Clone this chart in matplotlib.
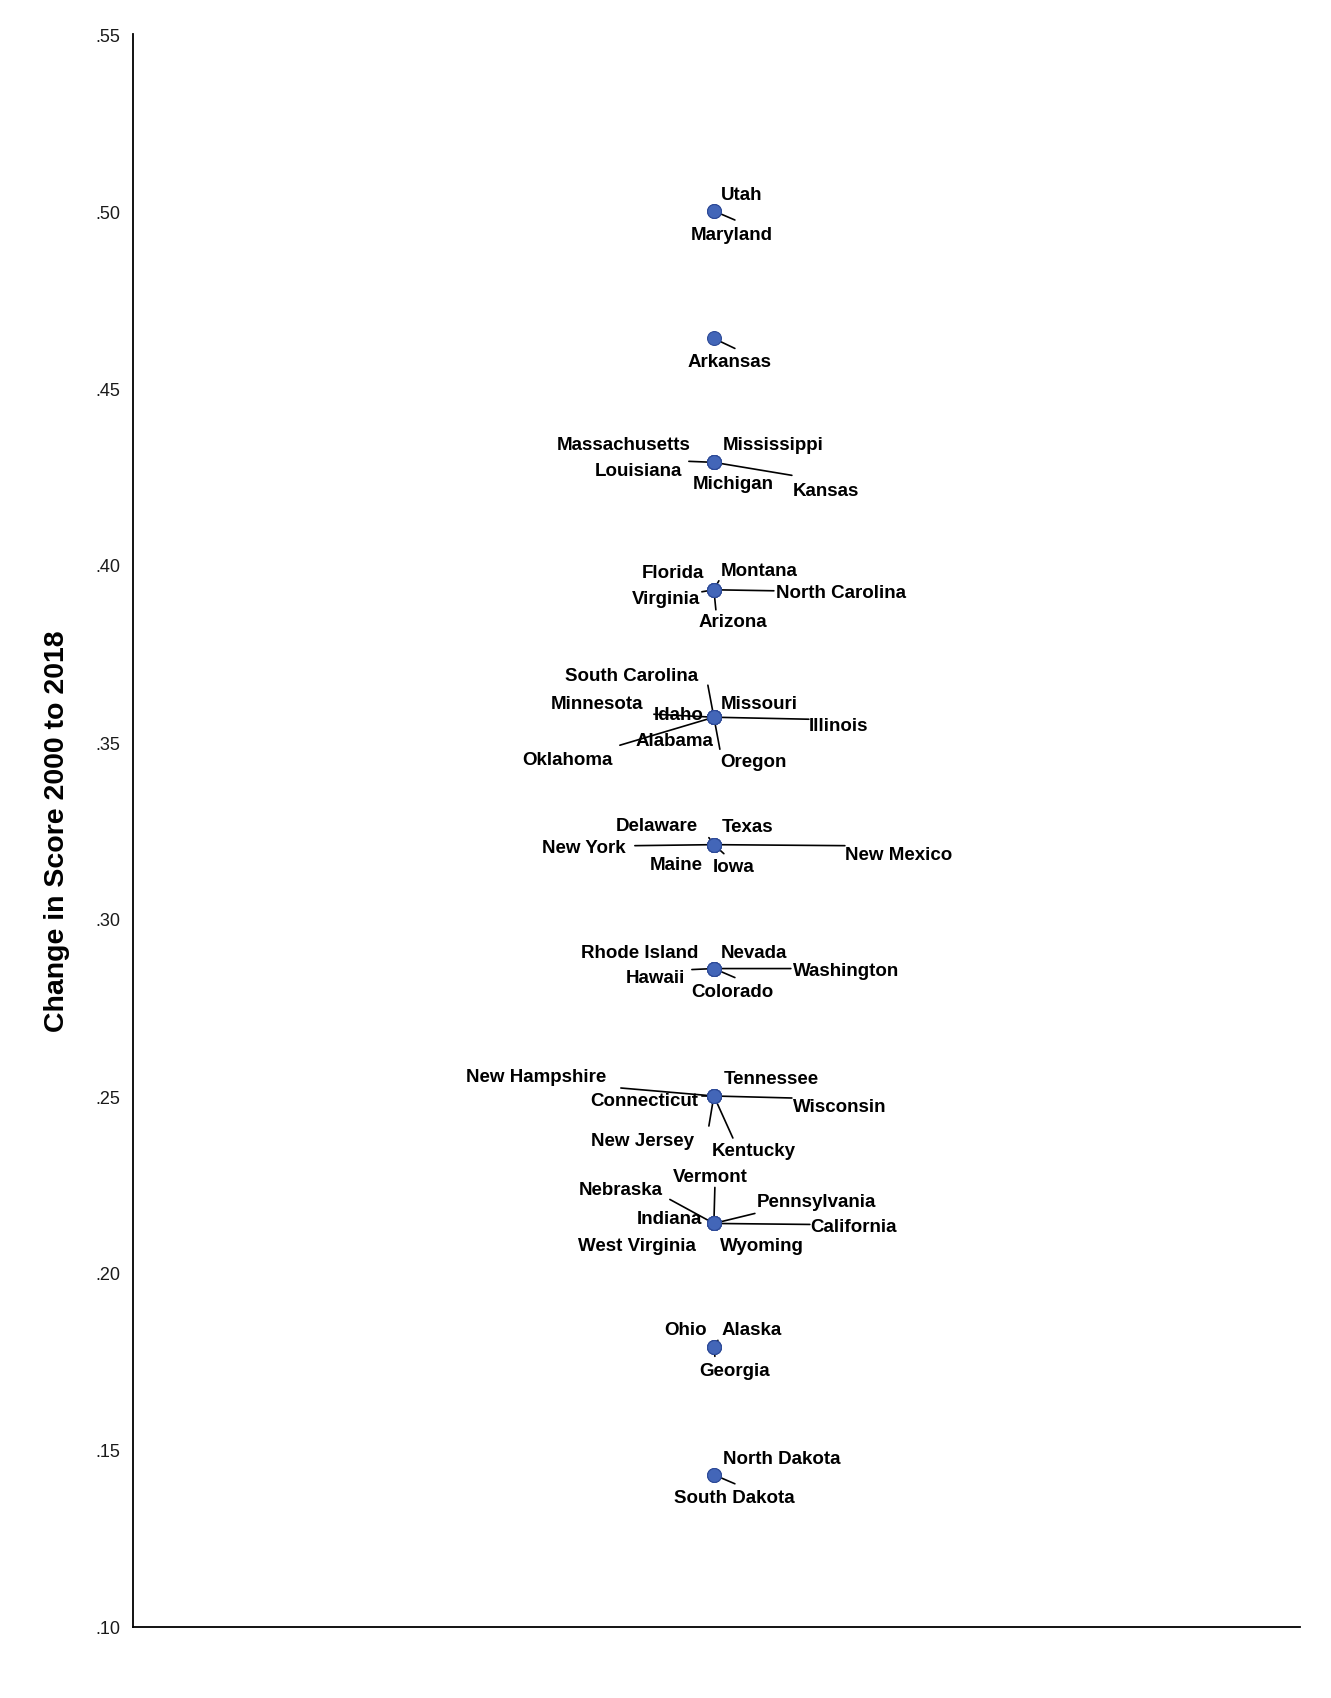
import matplotlib
matplotlib.use("Agg")
import matplotlib.pyplot as plt
from matplotlib.ticker import FuncFormatter

# ---------------- data ----------------
states = ["Utah", "Maryland",
          "Arkansas",
          "Massachusetts", "Mississippi", "Louisiana", "Michigan", "Kansas",
          "Florida", "Montana", "Virginia", "North Carolina", "Arizona",
          "South Carolina", "Minnesota", "Missouri", "Idaho", "Illinois", "Alabama", "Oklahoma", "Oregon",
          "Delaware", "Texas", "New York", "New Mexico", "Maine", "Iowa",
          "Rhode Island", "Nevada", "Hawaii", "Washington", "Colorado",
          "New Hampshire", "Tennessee", "Connecticut", "Wisconsin", "New Jersey", "Kentucky",
          "Vermont", "Nebraska", "Pennsylvania", "Indiana", "California", "West Virginia", "Wyoming",
          "Ohio", "Alaska", "Georgia",
          "North Dakota", "South Dakota"]
change = [0.500, 0.500,
          0.464,
          0.429, 0.429, 0.429, 0.429, 0.429,
          0.393, 0.393, 0.393, 0.393, 0.393,
          0.357, 0.357, 0.357, 0.357, 0.357, 0.357, 0.357, 0.357,
          0.321, 0.321, 0.321, 0.321, 0.321, 0.321,
          0.286, 0.286, 0.286, 0.286, 0.286,
          0.250, 0.250, 0.250, 0.250, 0.250, 0.250,
          0.214, 0.214, 0.214, 0.214, 0.214, 0.214, 0.214,
          0.179, 0.179, 0.179,
          0.143, 0.143]
y_ticks = [0.10, 0.15, 0.20, 0.25, 0.30, 0.35, 0.40, 0.45, 0.50, 0.55]
y_title = "Change in Score 2000 to 2018"

# ---------------- label layout (pixel offsets from the point; y down) ----------------
# name: (text centre dx, dy, leader-line end or None)
layout = {
    "Utah": (28, -18, None),
    "Maryland": (18, 22, (21, 9)),
    "Arkansas": (16, 22, (21, 10)),
    "Massachusetts": (-90, -19, None),
    "Mississippi": (59, -19, None),
    "Louisiana": (-75, 7, (-25, -1)),
    "Michigan": (19, 20, None),
    "Kansas": (112, 27, (78, 13)),
    "Florida": (-41, -18, None),
    "Montana": (45, -20, (5, -9)),
    "Virginia": (-48, 8, (-12, 2)),
    "North Carolina": (127, 2, (60, 1)),
    "Arizona": (19, 31, (2, 20)),
    "South Carolina": (-82, -43, (-6, -32)),
    "Minnesota": (-117, -15, (-60, -3)),
    "Missouri": (45, -15, None),
    "Idaho": (-35, -4, None),
    "Illinois": (125, 7, (95, 2)),
    "Alabama": (-39, 22, None),
    "Oklahoma": (-146, 41, (-94, 28)),
    "Oregon": (40, 43, (6, 32)),
    "Delaware": (-57, -20, (-5, -7)),
    "Texas": (34, -19, None),
    "New York": (-130, 2, (-79, 1)),
    "New Mexico": (185, 9, (131, 1)),
    "Maine": (-38, 19, None),
    "Iowa": (20, 21, (10, 9)),
    "Rhode Island": (-74, -17, None),
    "Nevada": (40, -17, None),
    "Hawaii": (-58, 8, (-22, 1)),
    "Washington": (132, 1, (77, 0)),
    "Colorado": (19, 22, (21, 9)),
    "New Hampshire": (-178, -20, (-93, -8)),
    "Tennessee": (57, -18, None),
    "Connecticut": (-70, 4, (-12, 0)),
    "Wisconsin": (126, 9, (78, 2)),
    "New Jersey": (-71, 43, (-5, 30)),
    "Kentucky": (40, 54, (19, 42)),
    "Vermont": (-4, -48, (1, -36)),
    "Nebraska": (-93, -35, (-44, -24)),
    "Pennsylvania": (103, -23, (41, -10)),
    "Indiana": (-44, -6, None),
    "California": (140, 2, (96, 1)),
    "West Virginia": (-77, 21, None),
    "Wyoming": (48, 21, None),
    "Ohio": (-28, -19, None),
    "Alaska": (38, -19, (4, -7)),
    "Georgia": (21, 22, (1, 9)),
    "North Dakota": (68, -17, None),
    "South Dakota": (20, 22, (21, 9)),
}

# ---------------- figure ----------------
W, H = 1331, 1699
fig = plt.figure(figsize=(W / 100, H / 100), dpi=100)
L, R, T, B = 133, 1300, 35, 1628
ax = fig.add_axes([L / W, 1 - B / H, (R - L) / W, (B - T) / H])

font = "Liberation Sans"
xs = [0.0] * len(states)
ax.scatter(xs, change, s=100, color="#4366B8", edgecolor="#2E4B98", linewidth=0.8, zorder=3)

for name, x, y in zip(states, xs, change):
    dx, dy, line = layout[name]
    if line is not None:
        ax.annotate("", xy=(x, y), xycoords="data",
                    xytext=(line[0], -line[1]), textcoords="offset pixels",
                    arrowprops=dict(arrowstyle="-", color="black", lw=1.2,
                                    shrinkA=0, shrinkB=0),
                    zorder=2)
    ax.annotate(name, xy=(x, y), xycoords="data",
                xytext=(dx, -dy - 1), textcoords="offset pixels",
                ha="center", va="center", fontsize=13.5, fontweight="bold",
                family=font, color="black", zorder=4)

ax.set_xlim(-0.9955, 1.0045)
ax.set_ylim(0.10, 0.55)
ax.set_xticks([])
ax.set_yticks(y_ticks)
ax.yaxis.set_major_formatter(FuncFormatter(lambda v, p: ("%.2f" % v).lstrip("0")))
ax.tick_params(axis="y", length=0, pad=9, labelsize=13, labelcolor="#1a1a1a")
for lab in ax.get_yticklabels():
    lab.set_family(font)
for s in ["top", "right"]:
    ax.spines[s].set_visible(False)
for s in ["left", "bottom"]:
    ax.spines[s].set_linewidth(1.3)
    ax.spines[s].set_color("black")

ax.set_ylabel(y_title, fontsize=20.5, fontweight="bold", family=font)
ax.yaxis.set_label_coords(-(133 - 70) / (R - L), 0.5)

fig.savefig("out.png", dpi=100, facecolor="white")
